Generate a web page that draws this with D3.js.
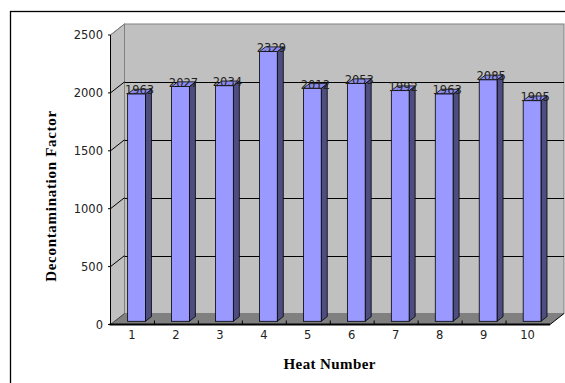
<!DOCTYPE html>
<html>
<head>
<meta charset="utf-8">
<script src="https://cdn.jsdelivr.net/npm/d3@7"></script>
<style>
  html, body { margin: 0; padding: 0; background: #fff; }
  svg { display: block; }
</style>
</head>
<body>
<svg id="chart" width="565" height="383"></svg>
<script>
// Heat number categories and decontamination factor per heat
const categories = ["1", "2", "3", "4", "5", "6", "7", "8", "9", "10"];
const values = [1963, 2027, 2034, 2329, 2012, 2053, 1992, 1963, 2085, 1905];
const yTicks = [0, 500, 1000, 1500, 2000, 2500];

const svg = d3.select("#chart");

// front plane of the 3D box
const x = d3.scaleBand().domain(categories).range([110.5, 550]);
const y = d3.scaleLinear().domain([0, 2500]).range([324.5, 35]);

// oblique depth vector (front -> back wall)
const DX = 14, DY = -11;
// bars sit partway into the depth
const zFront = 0.29, zDepth = 0.43;
const barW = 17.8;

const tickFont = "DejaVu Sans, sans-serif";
const titleFont = "'Liberation Serif', 'Times New Roman', serif";

// outer chart border
svg.append("rect")
  .attr("x", 10.5).attr("y", 11.5)
  .attr("width", 700).attr("height", 500)
  .attr("fill", "#fff").attr("stroke", "#000").attr("stroke-width", 1.3);

const x0 = x.range()[0], x1 = x.range()[1];
const yTop = y(2500), yBase = y(0);

// side wall
svg.append("polygon")
  .attr("points", [[x0, yTop], [x0 + DX, yTop + DY], [x0 + DX, yBase + DY], [x0, yBase]].join(" "))
  .attr("fill", "#c0c0c0").attr("stroke", "none");

// back wall
svg.append("rect")
  .attr("x", x0 + DX).attr("y", yTop + DY)
  .attr("width", x1 + DX - (x0 + DX)).attr("height", yBase - yTop)
  .attr("fill", "#c0c0c0").attr("stroke", "#808080").attr("stroke-width", 1);

// top edge of side wall
svg.append("line")
  .attr("x1", x0).attr("y1", yTop).attr("x2", x0 + DX).attr("y2", yTop + DY)
  .attr("stroke", "#808080");

// gridlines on walls
const grid = yTicks.filter(t => t > 0 && t < 2500);
svg.selectAll(".gridBack").data(grid).enter().append("line")
  .attr("x1", x0 + DX).attr("x2", x1 + DX)
  .attr("y1", d => Math.round(y(d) + DY) + 0.5).attr("y2", d => Math.round(y(d) + DY) + 0.5)
  .attr("stroke", "#000").attr("stroke-width", 1);
svg.selectAll(".gridSide").data(yTicks.filter(t => t > 0)).enter().append("line")
  .attr("x1", x0).attr("y1", d => y(d))
  .attr("x2", x0 + DX).attr("y2", d => y(d) + DY)
  .attr("stroke", d => d === 2500 ? "#808080" : "#000").attr("stroke-width", 1);

// floor
svg.append("polygon")
  .attr("points", [[x0, yBase], [x1, yBase], [x1 + DX, yBase + DY], [x0 + DX, yBase + DY]].join(" "))
  .attr("fill", "#808080");
svg.append("line")
  .attr("x1", x1).attr("y1", yBase).attr("x2", x1 + DX).attr("y2", yBase + DY)
  .attr("stroke", "#000");
svg.append("line")
  .attr("x1", x0).attr("y1", yBase).attr("x2", x0 + DX).attr("y2", yBase + DY)
  .attr("stroke", "#404040");

// bars
const ox = zFront * DX, oy = zFront * DY;
const dx = zDepth * DX, dy = zDepth * DY;
const bars = svg.selectAll(".bar").data(categories.map((c, i) => ({ c, v: values[i] })))
  .enter().append("g").attr("class", "bar");

bars.each(function (d) {
  const g = d3.select(this);
  const left = x(d.c) + (x.bandwidth() - barW) / 2 + ox;
  const right = left + barW;
  const top = y(d.v) + oy;
  const bottom = y(0) + oy;
  // side face
  g.append("polygon")
    .attr("points", [[right, top], [right + dx, top + dy], [right + dx, bottom + dy], [right, bottom]].join(" "))
    .attr("fill", "#4d4d80").attr("stroke", "#000").attr("stroke-width", 0.8);
  // top face
  g.append("polygon")
    .attr("points", [[left, top], [left + dx, top + dy], [right + dx, top + dy], [right, top]].join(" "))
    .attr("fill", "#8c8cee").attr("stroke", "#000").attr("stroke-width", 0.8);
  // front face
  g.append("rect")
    .attr("x", left).attr("y", top)
    .attr("width", barW).attr("height", bottom - top)
    .attr("fill", "#9999ff").attr("stroke", "#000").attr("stroke-width", 0.8);
  // value label
  g.append("text")
    .attr("x", left + barW / 2 + dx / 2).attr("y", top + 0.5)
    .attr("text-anchor", "middle")
    .attr("font-family", tickFont).attr("font-size", 11.5)
    .attr("fill", "#222")
    .text(d.v);
});

// value axis
svg.append("line")
  .attr("x1", x0).attr("y1", yTop).attr("x2", x0).attr("y2", yBase)
  .attr("stroke", "#000").attr("stroke-width", 1);
svg.selectAll(".yTick").data(yTicks).enter().append("line")
  .attr("x1", x0 - 2.5).attr("x2", x0)
  .attr("y1", d => y(d)).attr("y2", d => y(d))
  .attr("stroke", "#000");
svg.selectAll(".yLabel").data(yTicks).enter().append("text")
  .attr("x", 103).attr("y", d => y(d)).attr("dy", "0.36em")
  .attr("text-anchor", "end")
  .attr("font-family", tickFont).attr("font-size", 11.5).attr("fill", "#222")
  .text(d => d);

// category axis
svg.append("line")
  .attr("x1", x0 - 1).attr("y1", yBase).attr("x2", x1).attr("y2", yBase)
  .attr("stroke", "#000").attr("stroke-width", 2);
svg.selectAll(".xTick").data(categories.slice(1)).enter().append("line")
  .attr("x1", d => x(d)).attr("x2", d => x(d))
  .attr("y1", yBase - 4).attr("y2", yBase)
  .attr("stroke", "#000");
svg.selectAll(".xLabel").data(categories).enter().append("text")
  .attr("x", d => x(d) + x.bandwidth() / 2 - 0.5).attr("y", 339.2)
  .attr("text-anchor", "middle")
  .attr("font-family", tickFont).attr("font-size", 11.5).attr("fill", "#222")
  .text(d => d);

// axis titles
svg.append("text")
  .attr("x", 329.7).attr("y", 369.3)
  .attr("text-anchor", "middle")
  .attr("font-family", titleFont).attr("font-weight", "bold").attr("font-size", 15)
  .attr("letter-spacing", 0.4)
  .text("Heat Number");
svg.append("text")
  .attr("transform", "translate(56,196) rotate(-90)")
  .attr("text-anchor", "middle")
  .attr("font-family", titleFont).attr("font-weight", "bold").attr("font-size", 15)
  .attr("letter-spacing", 0.7)
  .text("Decontamination Factor");
</script>
</body>
</html>
